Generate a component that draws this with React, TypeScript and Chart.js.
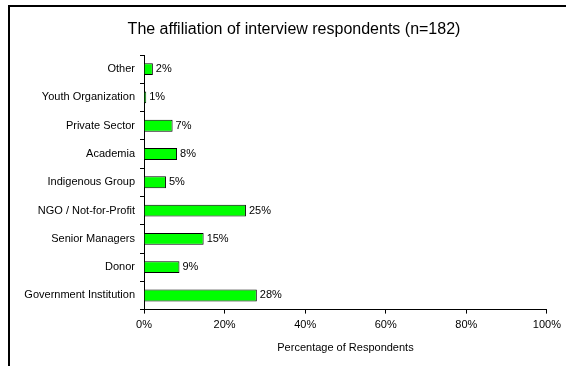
import React, { useEffect, useRef } from "react";
import { Chart, registerables } from "chart.js";

Chart.register(...registerables);

const TITLE = "The affiliation of interview respondents (n=182)";
const X_TITLE = "Percentage of Respondents";
const categories = [
  "Other",
  "Youth Organization",
  "Private Sector",
  "Academia",
  "Indigenous Group",
  "NGO / Not-for-Profit",
  "Senior Managers",
  "Donor",
  "Government Institution",
];
const percentages = [2.2, 0.55, 7.1, 8.2, 5.45, 25.3, 14.8, 8.8, 28.0];
const xTicks = [0, 20, 40, 60, 80, 100];

const FONT = "'Liberation Sans', Arial, sans-serif";

const framePlugin = {
  id: "frame",
  beforeDraw(chart: any) {
    const ctx = chart.ctx;
    ctx.save();
    ctx.fillStyle = "#fff";
    ctx.fillRect(0, 0, chart.width, chart.height);
    ctx.fillStyle = "#000";
    ctx.fillRect(8, 5, chart.width - 8, 2);
    ctx.fillRect(8, 5, 2, chart.height - 5);
    ctx.font = `16px ${FONT}`;
    ctx.textAlign = "center";
    ctx.textBaseline = "middle";
    ctx.fillText(TITLE, 294, 30);
    ctx.restore();
  },
};

const labelPlugin = {
  id: "barLabels",
  afterDatasetsDraw(chart: any) {
    const ctx = chart.ctx;
    const meta = chart.getDatasetMeta(0);
    ctx.save();
    ctx.font = `11px ${FONT}`;
    ctx.fillStyle = "#000";
    ctx.textAlign = "left";
    ctx.textBaseline = "middle";
    meta.data.forEach((bar: any, i: number) => {
      ctx.fillText(Math.round(percentages[i]) + "%", bar.x + 3, bar.y);
    });
    ctx.restore();
  },
};

export default function App() {
  const ref = useRef<HTMLCanvasElement | null>(null);
  useEffect(() => {
    if (!ref.current) return;
    const chart = new Chart(ref.current, {
      type: "bar",
      data: {
        labels: categories,
        datasets: [
          {
            data: percentages,
            backgroundColor: "#00FF00",
            borderColor: "#000",
            borderWidth: 1,
            barPercentage: 0.42,
            categoryPercentage: 1,
          },
        ],
      },
      options: {
        indexAxis: "y",
        responsive: false,
        animation: false,
        layout: { padding: { left: 0, right: 19, top: 55, bottom: 11 } },
        plugins: {
          legend: { display: false },
          tooltip: { enabled: false },
          title: { display: false },
        },
        scales: {
          x: {
            min: 0,
            max: 100,
            afterBuildTicks(scale: any) {
              scale.ticks = xTicks.map((v) => ({ value: v }));
            },
            ticks: {
              color: "#000",
              font: { family: FONT, size: 11 },
              padding: 5,
              maxRotation: 0,
              callback: (v: any) => v + "%",
            },
            grid: { drawOnChartArea: false, color: "#000", tickLength: 4 },
            border: { color: "#000", width: 1 },
            title: {
              display: true,
              text: X_TITLE,
              color: "#000",
              font: { family: FONT, size: 11 },
              padding: { top: 5, bottom: 0 },
            },
          },
          y: {
            afterFit(scale: any) {
              scale.width = 144;
            },
            ticks: {
              color: "#000",
              font: { family: FONT, size: 11 },
              padding: 5,
            },
            grid: { drawOnChartArea: false, color: "#000", tickLength: 4, offset: true },
            border: { color: "#000", width: 1 },
          },
        },
      },
      plugins: [framePlugin, labelPlugin],
    });
    return () => chart.destroy();
  }, []);
  return (
    <div style={{ position: "fixed", left: 0, top: 0, width: 566, height: 366 }}>
      <canvas ref={ref} width={566} height={366} style={{ display: "block" }} />
    </div>
  );
}
